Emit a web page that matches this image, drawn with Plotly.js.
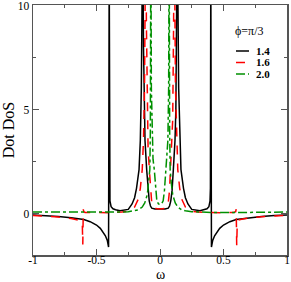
<!DOCTYPE html>
<html>
<head>
<meta charset="utf-8">
<script src="https://cdn.plot.ly/plotly-3.0.1.min.js"></script>
<style>html,body{margin:0;padding:0;background:#fff;}#chart{width:291px;height:282px;}</style>
</head>
<body>
<div id="chart"></div>
<script>
// phi = 1.4 (black, solid)
const omega14 = [-1, -0.9, -0.8, -0.7, -0.6, -0.55, -0.5, -0.47, -0.45, -0.43, -0.415, -0.405, -0.4, -0.397, -0.394, -0.385, -0.37, -0.35, -0.315, -0.25, -0.22, -0.2, -0.185, -0.165, -0.155, -0.147, -0.14, -0.136, -0.13, -0.125, -0.118, -0.105, -0.095, -0.085, -0.075, -0.065, -0.04, 0,
  0.04, 0.065, 0.075, 0.085, 0.095, 0.105, 0.118, 0.125, 0.13, 0.136, 0.14, 0.147, 0.155, 0.165, 0.185, 0.2, 0.22, 0.25, 0.315, 0.35, 0.37, 0.385, 0.394, 0.397, 0.4, 0.405, 0.415, 0.43, 0.45, 0.47, 0.5, 0.55, 0.6, 0.7, 0.8, 0.9, 1];
const dos14 = [-0.08, -0.11, -0.15, -0.21, -0.3, -0.4, -0.56, -0.72, -0.88, -1.08, -1.3, -1.62, 12, 1.2, 0.6, 0.32, 0.22, 0.17, 0.12, 0.19, 0.45, 0.75, 1.2, 2.1, 3.5, 6, 11, 14, 8, 5, 3.5, 2.1, 1.1, 0.6, 0.35, 0.25, 0.21, 0.2,
  0.21, 0.25, 0.35, 0.6, 1.1, 2.1, 3.5, 5, 8, 14, 11, 6, 3.5, 2.1, 1.2, 0.75, 0.45, 0.19, 0.12, 0.17, 0.22, 0.32, 0.6, 1.2, 12, -1.62, -1.3, -1.08, -0.88, -0.72, -0.56, -0.4, -0.3, -0.21, -0.15, -0.11, -0.08];

// phi = 1.6 (red, dashed)
const omega16 = [-1, -0.9, -0.8, -0.7, -0.65, -0.62, -0.612, -0.608, -0.604, -0.6, -0.59, -0.5, -0.4, -0.3, -0.25, -0.2, -0.17, -0.155, -0.14, -0.13, -0.122, -0.116, -0.112, -0.107, -0.1, -0.094, -0.084, -0.075, -0.065, -0.055, -0.04, 0,
  0.04, 0.055, 0.065, 0.075, 0.084, 0.094, 0.1, 0.107, 0.112, 0.116, 0.122, 0.13, 0.14, 0.155, 0.17, 0.2, 0.25, 0.3, 0.4, 0.5, 0.58, 0.596, 0.6, 0.604, 0.608, 0.615, 0.65, 0.7, 0.8, 0.9, 1];
const dos16 = [-0.1, -0.13, -0.18, -0.25, -0.3, -0.35, -0.45, -1.5, 0.19, 0.08, 0.04, 0.03, 0.03, 0.06, 0.1, 0.3, 0.7, 1.2, 2.1, 3.5, 6, 11, 14, 9, 4.5, 3.2, 2.1, 1.1, 0.5, 0.28, 0.23, 0.21,
  0.23, 0.28, 0.5, 1.1, 2.1, 3.2, 4.5, 9, 14, 11, 6, 3.5, 2.1, 1.2, 0.7, 0.3, 0.1, 0.06, 0.03, 0.03, 0.04, 0.08, 0.2, -1.56, -0.5, -0.32, -0.27, -0.22, -0.16, -0.12, -0.1];

// phi = 2.0 (green, dash-dot)
const omega20 = [-1, -0.8, -0.6, -0.4, -0.3, -0.25, -0.2, -0.17, -0.14, -0.12, -0.1, -0.088, -0.08, -0.076, -0.072, -0.068, -0.062, -0.055, -0.045, -0.035, -0.025, -0.012, 0,
  0.012, 0.025, 0.035, 0.045, 0.055, 0.062, 0.068, 0.072, 0.076, 0.08, 0.088, 0.1, 0.12, 0.14, 0.17, 0.2, 0.25, 0.3, 0.4, 0.6, 0.8, 1];
const dos20 = [0.06, 0.05, 0.04, 0.04, 0.06, 0.08, 0.12, 0.17, 0.3, 0.5, 0.9, 1.5, 2.1, 4, 14, 6, 3.5, 2.6, 2.1, 1.1, 0.6, 0.45, 0.42,
  0.45, 0.6, 1.1, 2.1, 2.6, 3.5, 6, 14, 4, 2.1, 1.5, 0.9, 0.5, 0.3, 0.17, 0.12, 0.08, 0.06, 0.04, 0.04, 0.05, 0.06];

const seriesNames = ['1.4', '1.6', '2.0'];
const seriesColors = ['#000000', '#ff0000', '#009000'];
const seriesDash = ['solid', 'dash', 'dashdot'];
const legendTitle = 'ϕ=π/3';
const xTickVals = [-1, -0.5, 0, 0.5, 1];
const xTickText = ['-1', '-0.5', '0', '0.5', '1'];
const yTickVals = [0, 5, 10];
const xTitle = 'ω';
const yTitle = 'Dot DoS';

const xs = [omega14, omega16, omega20];
const ys = [dos14, dos16, dos20];

const SERIF = 'Liberation Serif, Times New Roman, serif';
const traces = xs.map((x, i) => ({
  x: x, y: ys[i], type: 'scatter', mode: 'lines', name: seriesNames[i],
  line: {color: seriesColors[i], width: 1.5, dash: seriesDash[i]},
  showlegend: false
}));

// manual legend (paper coords)
const plotL = 33, plotR = 287, plotT = 5, plotB = 255;
const W = plotR - plotL, H = plotB - plotT;
const px = v => (v - plotL) / W;
const py = v => (plotB - v) / H;
const legRowsY = [51, 62.5, 74];
const shapes = seriesNames.map((n, i) => ({
  type: 'line', xref: 'paper', yref: 'paper',
  x0: px(236), x1: px(249), y0: py(legRowsY[i]), y1: py(legRowsY[i]),
  line: {color: seriesColors[i], width: 1.5, dash: seriesDash[i]}
}));
const annotations = seriesNames.map((n, i) => ({
  xref: 'paper', yref: 'paper', x: px(255), y: py(legRowsY[i]),
  xanchor: 'left', yanchor: 'middle', showarrow: false, borderpad: 0, height: 10,
  text: '<b>' + n + '</b>', font: {family: SERIF, size: 11, color: '#000'}
}));
annotations.push({
  xref: 'paper', yref: 'paper', x: px(234), y: py(31.5),
  xanchor: 'left', yanchor: 'middle', showarrow: false, borderpad: 0,
  text: legendTitle, font: {family: SERIF, size: 12, color: '#000'}
});
annotations.push({
  xref: 'paper', yref: 'paper', x: 0.5, y: py(274),
  xanchor: 'center', yanchor: 'middle', showarrow: false, borderpad: 0, height: 14,
  text: xTitle, font: {family: SERIF, size: 14, color: '#000'}
});

const layout = {
  width: 291, height: 282,
  margin: {l: plotL, r: 291 - plotR, t: plotT, b: 282 - plotB},
  paper_bgcolor: '#fff', plot_bgcolor: '#fff',
  showlegend: false,
  font: {family: SERIF, size: 11, color: '#000'},
  xaxis: {
    range: [-1, 1], tickvals: xTickVals, ticktext: xTickText,
    ticks: 'inside', ticklen: 6, tickwidth: 1, tickcolor: '#555',
    minor: {dtick: 0.25, tick0: 0, ticks: 'inside', ticklen: 3, tickcolor: '#555', showgrid: false},
    showline: true, linecolor: '#555', linewidth: 1.5, mirror: 'ticks',
    showgrid: false, zeroline: false, ticklabeloverflow: 'allow', ticklabelstandoff: -6,
    tickfont: {family: SERIF, size: 11.5, color: '#000'}
  },
  yaxis: {
    range: [-2, 10], tickvals: yTickVals,
    ticks: 'inside', ticklen: 6, tickwidth: 1, tickcolor: '#555',
    minor: {dtick: 2.5, tick0: 0, ticks: 'inside', ticklen: 3, tickcolor: '#555', showgrid: false},
    showline: true, linecolor: '#555', linewidth: 1.5, mirror: 'ticks',
    showgrid: false, zeroline: false, ticklabeloverflow: 'allow', ticklabelshift: 1,
    tickfont: {family: SERIF, size: 11.5, color: '#000'},
    title: {text: yTitle, font: {family: SERIF, size: 16, color: '#000'}, standoff: 4}
  },
  shapes: shapes,
  annotations: annotations
};

Plotly.newPlot('chart', traces, layout, {displayModeBar: false, staticPlot: true});
</script>
</body>
</html>
